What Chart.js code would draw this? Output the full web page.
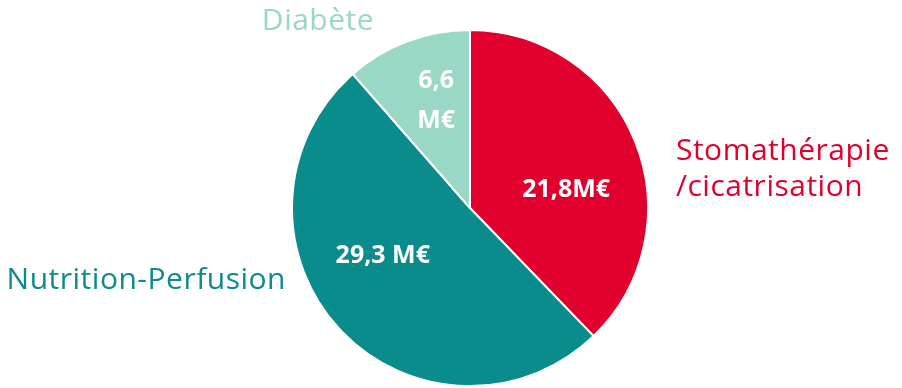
<!DOCTYPE html>
<html lang="fr">
<head>
<meta charset="utf-8">
<script src="https://cdn.jsdelivr.net/npm/chart.js@4"></script>
<style>
  html, body { margin: 0; padding: 0; background: #ffffff; }
  #wrap { width: 902px; height: 388px; position: relative; }
</style>
</head>
<body>
<div id="wrap"><canvas id="c"></canvas></div>
<script>
// Marché par segment (millions d'euros)
const categories = ['Stomathérapie\n/cicatrisation', 'Nutrition-Perfusion', 'Diabète'];
const values = [21.8, 29.3, 6.6];
const valueLabels = [['21,8M€'], ['29,3 M€'], ['6,6', 'M€']];
const colors = ['#E1002D', '#0A8C8C', '#98D8C4'];

// Label placement, as fractions of the pie radius from its centre
const valuePos = [[0.54, -0.10, 'center'], [-0.49, 0.27, 'center'], [-0.19, -0.60, 'center']];
const namePos = [[1.157, -0.32, 'left'], [-1.034, 0.405, 'right'], [-0.854, -1.05, 'center']];

const FONT = "'Open Sans', 'Noto Sans', sans-serif";

const labelPlugin = {
  id: 'sliceLabels',
  afterDatasetsDraw(chart) {
    const ctx = chart.ctx;
    const meta = chart.getDatasetMeta(0);
    meta.data.forEach((arc, i) => {
      const cx = arc.x, cy = arc.y, r = arc.outerRadius;
      ctx.save();
      ctx.textBaseline = 'middle';
      // value inside the slice
      ctx.fillStyle = '#ffffff';
      ctx.font = '700 25px ' + FONT;
      ctx.letterSpacing = '0px';
      ctx.textAlign = valuePos[i][2];
      const vl = valueLabels[i];
      const vx = cx + r * valuePos[i][0];
      const vy = cy + r * valuePos[i][1];
      vl.forEach((t, k) => {
        ctx.fillText(t, vx, vy + (k - (vl.length - 1) / 2) * 40);
      });
      // category name outside
      ctx.fillStyle = colors[i];
      ctx.font = '400 30px ' + FONT;
      ctx.letterSpacing = '0.5px';
      ctx.textAlign = namePos[i][2];
      const lines = categories[i].split('\n');
      const nx = cx + r * namePos[i][0];
      const ny = cy + r * namePos[i][1];
      lines.forEach((t, k) => {
        ctx.fillText(t, nx, ny + k * 36);
      });
      ctx.restore();
    });
  }
};

new Chart(document.getElementById('c'), {
  type: 'pie',
  data: {
    labels: categories,
    datasets: [{
      data: values,
      backgroundColor: colors,
      borderColor: '#ffffff',
      borderWidth: 2,
      hoverOffset: 0
    }]
  },
  options: {
    responsive: true,
    maintainAspectRatio: false,
    animation: false,
    radius: 178,
    layout: { padding: { left: 38, right: 0, top: 28, bottom: 0 } },
    plugins: {
      legend: { display: false },
      tooltip: { enabled: false }
    }
  },
  plugins: [labelPlugin]
});
</script>
</body>
</html>
